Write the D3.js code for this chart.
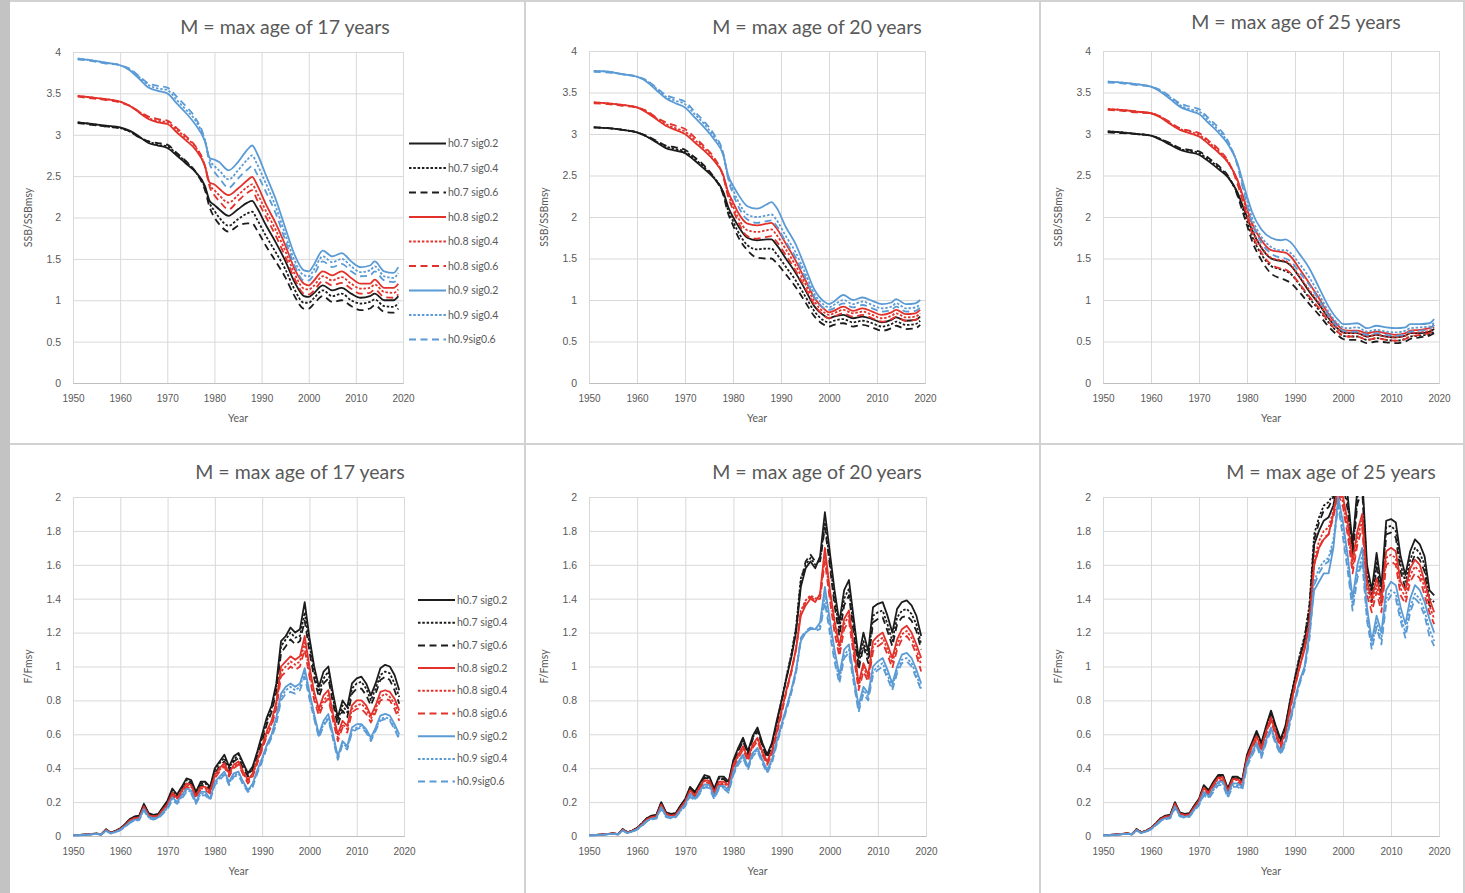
<!DOCTYPE html>
<html>
<head>
<meta charset="utf-8">
<script src="https://cdn.jsdelivr.net/npm/d3@7"></script>
<style>
  body { margin: 0; background: #fff; }
  svg { display: block; font-family: Lato, "Open Sans", sans-serif; }
</style>
</head>
<body>
<div id="chart"></div>
<script>
// series labels (legend order)
var seriesNames = ["h0.7 sig0.2", "h0.7 sig0.4", "h0.7 sig0.6",
                   "h0.8 sig0.2", "h0.8 sig0.4", "h0.8 sig0.6",
                   "h0.9 sig0.2", "h0.9 sig0.4", "h0.9sig0.6"];
var panelTitles = ["M = max age of 17 years", "M = max age of 20 years", "M = max age of 25 years"];
var xTicks = [1950, 1960, 1970, 1980, 1990, 2000, 2010, 2020];
var ssbTicks = [0, 0.5, 1, 1.5, 2, 2.5, 3, 3.5, 4];
var fTicks = [0, 0.2, 0.4, 0.6, 0.8, 1, 1.2, 1.4, 1.6, 1.8, 2];

// SSB/SSBmsy, read at these years
var ssbYears = [1951,1954,1957,1960,1962,1964,1966,1968,1970,1972,1974,1976,1978,1979,1980,1981,1983,1985,1987,1988,
                1989,1991,1993,1995,1997,1999,2000,2001,2003,2005,2007,2009,2011,2013,2014,2016,2018,2019];

var ssb17 = [
  [3.15,3.13,3.11,3.09,3.05,2.98,2.9,2.87,2.84,2.75,2.65,2.55,2.38,2.2,2.15,2.1,2.02,2.1,2.18,2.2,2.12,1.9,1.7,1.48,1.22,1.05,1.04,1.08,1.18,1.12,1.15,1.08,1.03,1.05,1.08,1.0,1.0,1.05],
  [3.15,3.13,3.1,3.08,3.04,2.97,2.92,2.88,2.86,2.77,2.67,2.55,2.36,2.17,2.08,2.0,1.9,1.98,2.05,2.07,1.98,1.77,1.58,1.38,1.13,0.97,0.97,1.02,1.12,1.05,1.08,1.0,0.96,0.98,1.01,0.93,0.92,0.97],
  [3.14,3.12,3.1,3.08,3.04,2.97,2.92,2.9,2.88,2.78,2.68,2.55,2.33,2.12,2.0,1.92,1.83,1.9,1.93,1.93,1.85,1.65,1.47,1.28,1.05,0.9,0.9,0.95,1.05,0.98,1.0,0.93,0.88,0.9,0.94,0.86,0.85,0.9],
  [3.47,3.45,3.43,3.4,3.35,3.27,3.19,3.15,3.13,3.03,2.93,2.82,2.62,2.42,2.4,2.35,2.27,2.35,2.45,2.49,2.4,2.15,1.93,1.67,1.38,1.2,1.18,1.23,1.35,1.3,1.35,1.27,1.2,1.2,1.25,1.15,1.15,1.2],
  [3.47,3.45,3.43,3.4,3.35,3.28,3.2,3.17,3.15,3.06,2.96,2.85,2.62,2.4,2.33,2.27,2.18,2.27,2.37,2.4,2.3,2.07,1.85,1.6,1.32,1.14,1.13,1.17,1.29,1.24,1.28,1.2,1.14,1.15,1.19,1.1,1.09,1.13],
  [3.46,3.44,3.42,3.39,3.35,3.28,3.22,3.19,3.17,3.08,2.98,2.86,2.62,2.37,2.27,2.2,2.1,2.2,2.3,2.33,2.22,2.0,1.78,1.53,1.26,1.08,1.07,1.11,1.23,1.18,1.21,1.14,1.08,1.09,1.13,1.04,1.03,1.07],
  [3.92,3.9,3.87,3.84,3.78,3.68,3.57,3.53,3.5,3.38,3.26,3.12,2.92,2.72,2.7,2.67,2.57,2.67,2.82,2.87,2.78,2.5,2.22,1.88,1.55,1.36,1.35,1.42,1.6,1.53,1.57,1.47,1.4,1.42,1.47,1.35,1.33,1.4],
  [3.92,3.9,3.87,3.84,3.79,3.7,3.6,3.56,3.54,3.42,3.3,3.17,2.93,2.7,2.62,2.57,2.46,2.57,2.7,2.75,2.65,2.4,2.13,1.8,1.48,1.3,1.29,1.36,1.53,1.46,1.5,1.41,1.34,1.36,1.41,1.29,1.27,1.33],
  [3.91,3.89,3.86,3.84,3.8,3.71,3.62,3.59,3.57,3.46,3.34,3.2,2.93,2.65,2.55,2.48,2.36,2.47,2.58,2.62,2.53,2.3,2.05,1.73,1.42,1.24,1.24,1.3,1.47,1.4,1.44,1.35,1.29,1.3,1.35,1.24,1.22,1.27]
];

var ssb20 = [
  [3.08,3.07,3.05,3.02,2.97,2.9,2.83,2.8,2.77,2.68,2.58,2.47,2.3,2.12,2.0,1.9,1.75,1.72,1.73,1.73,1.67,1.5,1.33,1.13,0.92,0.81,0.78,0.8,0.82,0.78,0.8,0.77,0.73,0.76,0.79,0.75,0.76,0.8],
  [3.08,3.07,3.05,3.02,2.97,2.91,2.85,2.82,2.79,2.7,2.6,2.48,2.28,2.08,1.95,1.83,1.66,1.61,1.62,1.62,1.56,1.4,1.24,1.05,0.86,0.75,0.73,0.75,0.77,0.73,0.75,0.72,0.68,0.71,0.74,0.7,0.71,0.75],
  [3.08,3.07,3.05,3.02,2.98,2.92,2.86,2.84,2.81,2.72,2.62,2.48,2.26,2.04,1.9,1.77,1.6,1.51,1.5,1.5,1.45,1.31,1.16,0.98,0.8,0.7,0.68,0.7,0.72,0.68,0.7,0.67,0.63,0.66,0.69,0.65,0.66,0.7],
  [3.38,3.37,3.35,3.32,3.26,3.18,3.1,3.05,3.0,2.9,2.8,2.68,2.5,2.3,2.18,2.06,1.92,1.9,1.92,1.93,1.87,1.68,1.48,1.25,1.02,0.89,0.85,0.87,0.92,0.87,0.9,0.86,0.82,0.85,0.88,0.83,0.84,0.88],
  [3.38,3.37,3.35,3.32,3.27,3.19,3.12,3.07,3.03,2.93,2.83,2.7,2.49,2.27,2.13,2.0,1.84,1.82,1.84,1.85,1.79,1.61,1.42,1.2,0.98,0.85,0.82,0.84,0.88,0.84,0.86,0.82,0.78,0.81,0.84,0.79,0.8,0.84],
  [3.37,3.36,3.34,3.32,3.28,3.2,3.14,3.1,3.06,2.96,2.85,2.72,2.48,2.24,2.09,1.95,1.77,1.74,1.76,1.77,1.71,1.54,1.36,1.15,0.94,0.81,0.78,0.8,0.84,0.8,0.82,0.78,0.74,0.77,0.8,0.75,0.76,0.8],
  [3.76,3.75,3.72,3.69,3.63,3.53,3.43,3.37,3.32,3.2,3.08,2.94,2.74,2.5,2.38,2.28,2.13,2.1,2.15,2.18,2.12,1.88,1.68,1.4,1.12,0.98,0.95,0.98,1.06,1.0,1.03,0.99,0.95,0.97,1.01,0.95,0.96,1.0],
  [3.76,3.75,3.72,3.69,3.64,3.55,3.45,3.4,3.36,3.24,3.12,2.97,2.75,2.48,2.33,2.2,2.03,2.0,2.02,2.03,1.97,1.77,1.58,1.33,1.07,0.94,0.91,0.94,1.0,0.95,0.98,0.94,0.9,0.92,0.96,0.9,0.91,0.95],
  [3.75,3.74,3.72,3.69,3.65,3.56,3.47,3.43,3.39,3.27,3.15,3.0,2.76,2.46,2.28,2.14,1.97,1.93,1.95,1.96,1.9,1.7,1.52,1.28,1.03,0.9,0.88,0.9,0.96,0.91,0.94,0.9,0.86,0.88,0.92,0.86,0.87,0.91]
];

var ssb25 = [
  [3.03,3.02,3.0,2.98,2.93,2.87,2.81,2.78,2.75,2.67,2.58,2.48,2.3,2.15,2.0,1.85,1.63,1.5,1.47,1.46,1.42,1.27,1.1,0.95,0.78,0.65,0.61,0.6,0.6,0.56,0.58,0.56,0.55,0.57,0.6,0.6,0.62,0.65],
  [3.03,3.02,3.0,2.98,2.94,2.88,2.82,2.8,2.77,2.69,2.6,2.49,2.28,2.12,1.95,1.78,1.55,1.41,1.37,1.35,1.32,1.18,1.02,0.88,0.73,0.61,0.57,0.56,0.56,0.52,0.54,0.52,0.51,0.53,0.56,0.57,0.59,0.62],
  [3.02,3.01,3.0,2.98,2.94,2.89,2.83,2.81,2.79,2.71,2.62,2.5,2.26,2.08,1.9,1.72,1.48,1.32,1.26,1.24,1.21,1.09,0.95,0.82,0.68,0.57,0.53,0.52,0.52,0.48,0.5,0.49,0.48,0.5,0.53,0.55,0.57,0.6],
  [3.3,3.29,3.27,3.25,3.2,3.12,3.05,3.01,2.97,2.88,2.78,2.66,2.45,2.28,2.1,1.93,1.72,1.6,1.58,1.57,1.53,1.37,1.2,1.02,0.83,0.69,0.64,0.63,0.63,0.6,0.62,0.6,0.58,0.6,0.63,0.64,0.66,0.7],
  [3.3,3.29,3.27,3.25,3.21,3.13,3.06,3.03,2.99,2.9,2.8,2.67,2.43,2.25,2.06,1.87,1.64,1.51,1.48,1.47,1.43,1.28,1.12,0.96,0.79,0.65,0.61,0.6,0.6,0.56,0.58,0.56,0.55,0.57,0.6,0.61,0.63,0.67],
  [3.29,3.28,3.26,3.25,3.21,3.14,3.07,3.04,3.01,2.92,2.82,2.68,2.4,2.21,2.01,1.81,1.57,1.43,1.38,1.37,1.33,1.19,1.04,0.9,0.74,0.61,0.57,0.56,0.56,0.52,0.54,0.52,0.51,0.53,0.56,0.58,0.6,0.64],
  [3.63,3.62,3.6,3.57,3.51,3.42,3.33,3.28,3.24,3.13,3.02,2.88,2.65,2.45,2.25,2.07,1.85,1.75,1.72,1.73,1.7,1.55,1.38,1.15,0.92,0.76,0.71,0.71,0.72,0.66,0.69,0.67,0.66,0.67,0.71,0.71,0.72,0.77],
  [3.63,3.62,3.6,3.57,3.52,3.44,3.35,3.3,3.27,3.16,3.05,2.9,2.64,2.42,2.2,2.0,1.76,1.64,1.6,1.6,1.57,1.43,1.27,1.07,0.86,0.71,0.67,0.66,0.67,0.62,0.64,0.62,0.61,0.63,0.66,0.67,0.68,0.73],
  [3.62,3.61,3.59,3.57,3.53,3.45,3.37,3.33,3.3,3.19,3.08,2.92,2.62,2.38,2.15,1.94,1.69,1.56,1.51,1.5,1.47,1.33,1.18,1.0,0.81,0.67,0.63,0.62,0.62,0.58,0.6,0.58,0.57,0.59,0.62,0.63,0.65,0.7]
];

// F/Fmsy, one value per year 1950-2019
var fYears = d3.range(1950, 2020);

var f17 = [
  [0.005,0.005,0.008,0.01,0.012,0.015,0.01,0.04,0.02,0.03, 0.045,0.07,0.1,0.115,0.12,0.19,0.135,0.125,0.13,0.17,
   0.21,0.28,0.245,0.29,0.34,0.33,0.26,0.32,0.32,0.29, 0.4,0.44,0.48,0.41,0.47,0.49,0.43,0.37,0.41,0.5,
   0.6,0.7,0.77,0.9,1.15,1.18,1.23,1.2,1.22,1.38, 1.17,1.0,0.88,0.97,1.0,0.84,0.7,0.8,0.76,0.9,
   0.93,0.94,0.9,0.83,0.9,0.99,1.01,1.0,0.95,0.86],
  [0.005,0.005,0.008,0.01,0.012,0.014,0.01,0.038,0.02,0.03, 0.044,0.068,0.098,0.112,0.117,0.185,0.13,0.12,0.127,0.165,
   0.205,0.27,0.24,0.28,0.33,0.32,0.25,0.31,0.31,0.28, 0.39,0.43,0.46,0.4,0.45,0.48,0.42,0.36,0.4,0.49,
   0.58,0.68,0.75,0.88,1.12,1.16,1.2,1.17,1.18,1.32, 1.13,0.97,0.85,0.93,0.97,0.81,0.68,0.77,0.73,0.87,
   0.9,0.91,0.87,0.8,0.87,0.95,0.97,0.96,0.9,0.82],
  [0.005,0.005,0.007,0.01,0.011,0.013,0.01,0.036,0.018,0.028, 0.042,0.065,0.095,0.108,0.113,0.18,0.125,0.115,0.122,0.16,
   0.2,0.26,0.23,0.27,0.32,0.31,0.24,0.3,0.3,0.27, 0.37,0.41,0.44,0.38,0.44,0.46,0.4,0.35,0.39,0.47,
   0.56,0.66,0.73,0.85,1.08,1.12,1.16,1.13,1.15,1.27, 1.09,0.93,0.82,0.9,0.93,0.78,0.65,0.74,0.7,0.84,
   0.87,0.87,0.83,0.77,0.84,0.92,0.94,0.92,0.86,0.78],
  [0.005,0.005,0.007,0.009,0.011,0.013,0.009,0.036,0.018,0.027, 0.041,0.064,0.092,0.106,0.11,0.175,0.124,0.115,0.12,0.156,
   0.19,0.255,0.225,0.265,0.31,0.3,0.235,0.29,0.29,0.265, 0.36,0.4,0.43,0.37,0.42,0.44,0.38,0.33,0.37,0.45,
   0.53,0.62,0.68,0.79,1.0,1.03,1.06,1.04,1.06,1.18, 1.0,0.85,0.75,0.83,0.86,0.72,0.6,0.68,0.65,0.77,
   0.8,0.8,0.77,0.71,0.77,0.85,0.86,0.85,0.81,0.74],
  [0.005,0.005,0.007,0.009,0.011,0.013,0.009,0.035,0.018,0.026, 0.04,0.062,0.09,0.103,0.107,0.17,0.12,0.112,0.117,0.152,
   0.185,0.25,0.22,0.26,0.3,0.29,0.23,0.28,0.28,0.26, 0.35,0.39,0.42,0.36,0.41,0.43,0.37,0.32,0.36,0.44,
   0.52,0.6,0.66,0.77,0.97,1.0,1.03,1.01,1.03,1.14, 0.97,0.83,0.73,0.8,0.83,0.7,0.58,0.66,0.63,0.75,
   0.77,0.78,0.75,0.69,0.75,0.82,0.84,0.82,0.78,0.71],
  [0.005,0.005,0.007,0.009,0.01,0.012,0.009,0.034,0.017,0.025, 0.039,0.06,0.087,0.1,0.104,0.165,0.116,0.108,0.113,0.148,
   0.18,0.24,0.21,0.25,0.29,0.28,0.22,0.27,0.27,0.25, 0.34,0.38,0.41,0.35,0.4,0.42,0.36,0.31,0.35,0.43,
   0.51,0.59,0.65,0.75,0.94,0.97,1.0,0.98,1.0,1.1, 0.94,0.8,0.71,0.78,0.81,0.68,0.56,0.64,0.61,0.73,
   0.75,0.75,0.72,0.67,0.73,0.8,0.81,0.8,0.75,0.68],
  [0.004,0.004,0.006,0.008,0.01,0.012,0.008,0.032,0.016,0.024, 0.037,0.057,0.082,0.095,0.1,0.16,0.113,0.105,0.11,0.14,
   0.17,0.23,0.2,0.24,0.28,0.27,0.2,0.26,0.26,0.22, 0.32,0.35,0.38,0.32,0.37,0.38,0.32,0.27,0.31,0.39,
   0.46,0.54,0.6,0.7,0.84,0.88,0.9,0.88,0.9,0.99, 0.85,0.72,0.6,0.68,0.72,0.6,0.47,0.56,0.53,0.64,
   0.66,0.66,0.63,0.58,0.64,0.71,0.72,0.71,0.66,0.6],
  [0.004,0.004,0.006,0.008,0.01,0.011,0.008,0.031,0.015,0.023, 0.035,0.055,0.08,0.092,0.097,0.155,0.11,0.1,0.106,0.135,
   0.165,0.22,0.195,0.23,0.27,0.26,0.195,0.25,0.25,0.215, 0.31,0.34,0.37,0.31,0.36,0.37,0.31,0.265,0.3,0.38,
   0.45,0.53,0.59,0.68,0.82,0.86,0.88,0.86,0.88,0.97, 0.83,0.7,0.59,0.66,0.7,0.58,0.46,0.55,0.52,0.62,
   0.64,0.65,0.62,0.57,0.63,0.69,0.7,0.69,0.64,0.58],
  [0.004,0.004,0.006,0.007,0.009,0.011,0.008,0.03,0.015,0.022, 0.034,0.053,0.077,0.089,0.094,0.15,0.106,0.097,0.103,0.13,
   0.16,0.21,0.19,0.22,0.26,0.25,0.19,0.24,0.24,0.21, 0.3,0.33,0.36,0.3,0.35,0.36,0.3,0.26,0.29,0.37,
   0.44,0.52,0.58,0.66,0.8,0.84,0.85,0.84,0.86,0.94, 0.81,0.69,0.58,0.65,0.69,0.57,0.45,0.54,0.51,0.61,
   0.63,0.64,0.61,0.56,0.62,0.68,0.69,0.68,0.63,0.57]
];

var f20 = [
  [0.005,0.005,0.008,0.01,0.013,0.016,0.011,0.04,0.022,0.032, 0.048,0.075,0.105,0.12,0.125,0.2,0.14,0.13,0.135,0.18,
   0.22,0.29,0.26,0.31,0.36,0.35,0.28,0.35,0.35,0.32, 0.45,0.52,0.58,0.5,0.59,0.64,0.55,0.48,0.55,0.68,
   0.8,0.93,1.05,1.2,1.47,1.58,1.62,1.58,1.65,1.91, 1.68,1.45,1.26,1.45,1.51,1.28,1.05,1.2,1.09,1.35,
   1.37,1.38,1.3,1.2,1.34,1.38,1.39,1.36,1.3,1.18],
  [0.005,0.005,0.008,0.01,0.013,0.016,0.011,0.04,0.022,0.032, 0.047,0.074,0.104,0.118,0.123,0.195,0.137,0.128,0.133,0.177,
   0.215,0.285,0.255,0.3,0.35,0.34,0.275,0.34,0.34,0.31, 0.44,0.51,0.57,0.49,0.58,0.63,0.54,0.47,0.54,0.67,
   0.8,0.94,1.07,1.23,1.52,1.6,1.64,1.6,1.63,1.85, 1.63,1.4,1.22,1.4,1.46,1.23,1.01,1.15,1.05,1.3,
   1.32,1.33,1.25,1.15,1.29,1.33,1.34,1.31,1.25,1.13],
  [0.005,0.005,0.008,0.01,0.012,0.015,0.011,0.039,0.021,0.031, 0.046,0.072,0.102,0.116,0.12,0.19,0.134,0.125,0.13,0.173,
   0.21,0.28,0.25,0.295,0.345,0.335,0.27,0.335,0.335,0.305, 0.43,0.5,0.56,0.48,0.57,0.62,0.53,0.46,0.53,0.66,
   0.79,0.93,1.06,1.22,1.5,1.62,1.66,1.62,1.62,1.82, 1.6,1.36,1.18,1.36,1.42,1.19,0.98,1.12,1.02,1.26,
   1.28,1.29,1.21,1.12,1.25,1.29,1.3,1.27,1.21,1.1],
  [0.005,0.005,0.007,0.009,0.012,0.015,0.01,0.037,0.02,0.03, 0.044,0.07,0.098,0.112,0.117,0.185,0.13,0.12,0.125,0.167,
   0.205,0.27,0.24,0.29,0.33,0.325,0.26,0.32,0.32,0.3, 0.42,0.48,0.53,0.46,0.54,0.58,0.5,0.44,0.5,0.62,
   0.74,0.86,0.97,1.1,1.3,1.36,1.4,1.38,1.43,1.7, 1.46,1.27,1.12,1.28,1.33,1.12,0.9,1.02,0.95,1.15,
   1.18,1.2,1.13,1.05,1.16,1.22,1.24,1.2,1.13,1.05],
  [0.005,0.005,0.007,0.009,0.012,0.015,0.01,0.036,0.02,0.029, 0.043,0.068,0.096,0.11,0.115,0.18,0.128,0.118,0.123,0.163,
   0.2,0.265,0.235,0.285,0.325,0.32,0.255,0.31,0.31,0.29, 0.41,0.47,0.52,0.45,0.53,0.57,0.49,0.43,0.49,0.61,
   0.73,0.86,0.97,1.11,1.33,1.39,1.42,1.4,1.42,1.66, 1.43,1.24,1.09,1.25,1.3,1.09,0.88,1.0,0.93,1.12,
   1.15,1.17,1.1,1.02,1.13,1.19,1.21,1.17,1.1,1.01],
  [0.005,0.005,0.007,0.009,0.011,0.014,0.01,0.035,0.019,0.028, 0.042,0.066,0.094,0.107,0.112,0.176,0.125,0.115,0.12,0.16,
   0.195,0.26,0.23,0.28,0.32,0.31,0.25,0.305,0.305,0.285, 0.4,0.46,0.51,0.44,0.52,0.56,0.48,0.42,0.48,0.6,
   0.72,0.85,0.96,1.1,1.32,1.38,1.41,1.39,1.4,1.62, 1.4,1.2,1.06,1.22,1.27,1.06,0.86,0.97,0.91,1.09,
   1.12,1.14,1.07,0.99,1.1,1.16,1.18,1.14,1.07,0.97],
  [0.004,0.004,0.006,0.008,0.011,0.013,0.009,0.033,0.018,0.027, 0.04,0.063,0.09,0.103,0.108,0.17,0.12,0.11,0.115,0.153,
   0.188,0.25,0.22,0.265,0.305,0.3,0.235,0.295,0.295,0.27, 0.38,0.44,0.48,0.41,0.49,0.52,0.45,0.39,0.45,0.56,
   0.66,0.76,0.86,0.98,1.15,1.2,1.22,1.22,1.26,1.47, 1.28,1.1,0.95,1.1,1.13,0.94,0.77,0.88,0.84,1.0,
   1.03,1.05,0.98,0.9,1.0,1.07,1.08,1.05,0.98,0.9],
  [0.004,0.004,0.006,0.008,0.01,0.013,0.009,0.032,0.017,0.026, 0.039,0.061,0.088,0.1,0.105,0.165,0.116,0.107,0.112,0.148,
   0.182,0.24,0.215,0.255,0.295,0.29,0.225,0.285,0.285,0.262, 0.37,0.43,0.47,0.4,0.48,0.51,0.44,0.38,0.44,0.55,
   0.65,0.75,0.85,0.97,1.16,1.2,1.23,1.22,1.24,1.42, 1.24,1.06,0.92,1.07,1.1,0.92,0.75,0.86,0.82,0.97,
   1.0,1.02,0.95,0.88,0.98,1.04,1.05,1.02,0.95,0.87],
  [0.004,0.004,0.006,0.007,0.01,0.012,0.009,0.031,0.017,0.025, 0.038,0.059,0.085,0.097,0.102,0.16,0.112,0.104,0.109,0.144,
   0.176,0.232,0.21,0.248,0.287,0.282,0.218,0.278,0.278,0.255, 0.36,0.42,0.46,0.39,0.47,0.5,0.43,0.37,0.43,0.54,
   0.64,0.74,0.84,0.96,1.17,1.21,1.23,1.21,1.22,1.38, 1.2,1.03,0.9,1.05,1.08,0.9,0.73,0.84,0.8,0.95,
   0.98,1.0,0.93,0.86,0.96,1.02,1.03,1.0,0.93,0.86]
];

var f25 = [
  [0.005,0.005,0.008,0.01,0.013,0.016,0.011,0.04,0.022,0.032, 0.048,0.075,0.105,0.12,0.125,0.2,0.14,0.13,0.135,0.18,
   0.22,0.3,0.27,0.32,0.36,0.36,0.28,0.35,0.35,0.33, 0.48,0.55,0.62,0.55,0.65,0.74,0.65,0.57,0.65,0.8,
   0.93,1.05,1.15,1.3,1.72,1.8,1.86,1.88,1.95,2.1, 2.15,2.0,1.72,2.05,2.12,1.6,1.45,1.67,1.47,1.86,
   1.87,1.85,1.65,1.54,1.68,1.75,1.72,1.65,1.45,1.42],
  [0.005,0.005,0.008,0.01,0.013,0.016,0.011,0.04,0.022,0.032, 0.047,0.074,0.104,0.118,0.123,0.195,0.137,0.128,0.133,0.177,
   0.215,0.295,0.265,0.315,0.355,0.355,0.275,0.345,0.345,0.325, 0.47,0.54,0.61,0.54,0.64,0.73,0.64,0.56,0.64,0.8,
   0.94,1.07,1.18,1.36,1.78,1.88,1.95,1.97,2.02,2.12, 2.12,1.96,1.68,2.0,2.08,1.56,1.42,1.62,1.42,1.82,
   1.83,1.8,1.6,1.5,1.63,1.7,1.67,1.6,1.4,1.38],
  [0.005,0.005,0.008,0.01,0.012,0.015,0.011,0.039,0.021,0.031, 0.046,0.072,0.102,0.116,0.12,0.19,0.134,0.125,0.13,0.173,
   0.21,0.29,0.26,0.31,0.35,0.35,0.27,0.34,0.34,0.32, 0.46,0.53,0.6,0.53,0.63,0.72,0.63,0.55,0.63,0.79,
   0.93,1.06,1.17,1.35,1.75,1.85,1.92,1.94,2.0,2.1, 2.08,1.92,1.65,1.96,2.04,1.52,1.38,1.58,1.38,1.78,
   1.79,1.76,1.56,1.46,1.59,1.66,1.63,1.56,1.36,1.34],
  [0.005,0.005,0.007,0.009,0.012,0.015,0.01,0.037,0.02,0.03, 0.045,0.071,0.1,0.114,0.118,0.19,0.133,0.123,0.128,0.17,
   0.21,0.285,0.255,0.305,0.345,0.345,0.265,0.335,0.335,0.315, 0.46,0.53,0.59,0.52,0.62,0.7,0.61,0.54,0.61,0.76,
   0.89,1.0,1.1,1.24,1.6,1.7,1.75,1.78,1.9,2.05, 2.0,1.85,1.62,1.8,1.9,1.5,1.4,1.52,1.4,1.68,
   1.7,1.68,1.5,1.45,1.58,1.63,1.6,1.5,1.4,1.32],
  [0.005,0.005,0.007,0.009,0.011,0.014,0.01,0.036,0.02,0.029, 0.044,0.07,0.098,0.112,0.116,0.185,0.13,0.12,0.125,0.166,
   0.205,0.28,0.25,0.3,0.34,0.34,0.26,0.33,0.33,0.31, 0.45,0.52,0.58,0.51,0.61,0.69,0.6,0.53,0.6,0.75,
   0.89,1.01,1.12,1.27,1.63,1.74,1.8,1.82,1.92,2.05, 1.97,1.81,1.58,1.76,1.86,1.46,1.36,1.48,1.36,1.64,
   1.66,1.64,1.46,1.41,1.54,1.59,1.56,1.46,1.36,1.28],
  [0.005,0.005,0.007,0.009,0.011,0.014,0.01,0.035,0.019,0.028, 0.043,0.068,0.095,0.109,0.113,0.18,0.127,0.117,0.122,0.162,
   0.2,0.27,0.245,0.29,0.33,0.33,0.255,0.32,0.32,0.3, 0.44,0.51,0.57,0.5,0.6,0.68,0.59,0.52,0.59,0.74,
   0.88,1.0,1.11,1.26,1.6,1.7,1.76,1.78,1.88,2.02, 1.94,1.77,1.55,1.72,1.82,1.42,1.32,1.44,1.32,1.6,
   1.62,1.6,1.42,1.37,1.5,1.55,1.52,1.42,1.32,1.25],
  [0.004,0.004,0.006,0.008,0.011,0.013,0.009,0.034,0.018,0.027, 0.041,0.065,0.092,0.105,0.11,0.175,0.122,0.113,0.118,0.156,
   0.19,0.26,0.235,0.28,0.32,0.32,0.245,0.31,0.31,0.29, 0.43,0.49,0.55,0.48,0.57,0.64,0.56,0.5,0.56,0.69,
   0.81,0.92,1.0,1.2,1.45,1.5,1.55,1.55,1.7,2.0, 1.85,1.65,1.4,1.6,1.7,1.35,1.15,1.3,1.2,1.45,
   1.5,1.48,1.35,1.25,1.4,1.48,1.45,1.38,1.28,1.2],
  [0.004,0.004,0.006,0.008,0.01,0.013,0.009,0.033,0.017,0.026, 0.04,0.063,0.09,0.102,0.107,0.17,0.118,0.11,0.115,0.152,
   0.185,0.25,0.23,0.27,0.31,0.31,0.235,0.3,0.3,0.28, 0.42,0.48,0.54,0.47,0.56,0.63,0.55,0.49,0.55,0.68,
   0.8,0.91,0.99,1.18,1.5,1.58,1.62,1.64,1.75,1.97, 1.8,1.6,1.36,1.55,1.65,1.3,1.12,1.26,1.16,1.4,
   1.45,1.43,1.3,1.2,1.35,1.43,1.4,1.33,1.22,1.15],
  [0.004,0.004,0.006,0.007,0.01,0.012,0.009,0.032,0.017,0.025, 0.039,0.061,0.087,0.099,0.104,0.165,0.115,0.107,0.112,0.148,
   0.18,0.24,0.22,0.26,0.3,0.3,0.225,0.29,0.29,0.27, 0.41,0.47,0.53,0.46,0.55,0.62,0.54,0.48,0.54,0.67,
   0.79,0.9,0.98,1.16,1.48,1.55,1.6,1.62,1.72,1.95, 1.76,1.56,1.33,1.52,1.62,1.27,1.1,1.23,1.13,1.37,
   1.42,1.4,1.27,1.17,1.32,1.4,1.37,1.3,1.18,1.12]
];

// line styles per series
var seriesColors = ["#1c1c1c", "#1c1c1c", "#1c1c1c", "#e3322b", "#e3322b", "#e3322b", "#5b9bd5", "#5b9bd5", "#5b9bd5"];
var seriesDash = [null, "2.5,1.8", "7,4.5", null, "2.5,1.8", "7,4.5", null, "2.5,1.8", "7,4.5"];

// panel layout
var panels = [
  { title: panelTitles[0], tx: 285, ty: 34, years: ssbYears, data: ssb17, ymax: 4, ticks: ssbTicks, ylab: "SSB/SSBmsy", left: 73, right: 403, top: 52, bottom: 383, smooth: true, legend: { x: 409, y: 143.5, step: 24.5 } },
  { title: panelTitles[1], tx: 817, ty: 34, years: ssbYears, data: ssb20, ymax: 4, ticks: ssbTicks, ylab: "SSB/SSBmsy", left: 589, right: 925, top: 51, bottom: 383, smooth: true },
  { title: panelTitles[2], tx: 1296, ty: 29, years: ssbYears, data: ssb25, ymax: 4, ticks: ssbTicks, ylab: "SSB/SSBmsy", left: 1103, right: 1439, top: 51, bottom: 383, smooth: true },
  { title: panelTitles[0], tx: 300, ty: 479, years: fYears, data: f17, ymax: 2, ticks: fTicks, ylab: "F/Fmsy", left: 73, right: 404, top: 497, bottom: 836, smooth: false, legend: { x: 418, y: 600, step: 22.7 } },
  { title: panelTitles[1], tx: 817, ty: 479, years: fYears, data: f20, ymax: 2, ticks: fTicks, ylab: "F/Fmsy", left: 589, right: 926, top: 497, bottom: 836, smooth: false },
  { title: panelTitles[2], tx: 1331, ty: 479, years: fYears, data: f25, ymax: 2, ticks: fTicks, ylab: "F/Fmsy", left: 1103, right: 1439, top: 497, bottom: 836, smooth: false }
];

var textColor = "#595959";
var gridColor = "#d9d9d9";

var svg = d3.select("#chart").append("svg")
  .attr("width", 1465)
  .attr("height", 893);

svg.append("rect").attr("width", 1465).attr("height", 893).attr("fill", "#fff");
// grey strip on the left and the cell borders
svg.append("rect").attr("x", 0).attr("y", 0).attr("width", 10).attr("height", 893).attr("fill", "#c3c3c3");
var borders = [[525, 0, 525, 893], [1040, 0, 1040, 893], [10, 444, 1465, 444], [1464, 0, 1464, 893], [10, 1, 1465, 1]];
svg.selectAll("line.border").data(borders).enter().append("line")
  .attr("class", "border")
  .attr("x1", function(d) { return d[0]; }).attr("y1", function(d) { return d[1]; })
  .attr("x2", function(d) { return d[2]; }).attr("y2", function(d) { return d[3]; })
  .attr("stroke", "#d2d2d2").attr("stroke-width", 2);

var fmt = d3.format("~g");

panels.forEach(function(p, pi) {
  var x = d3.scaleLinear().domain([1950, 2020]).range([p.left, p.right]);
  var y = d3.scaleLinear().domain([0, p.ymax]).range([p.bottom, p.top]);
  var g = svg.append("g");

  // horizontal grid + y labels
  var yAxis = d3.axisLeft(y).tickValues(p.ticks).tickFormat(fmt)
    .tickSize(-(p.right - p.left)).tickPadding(12);
  var gy = g.append("g").attr("transform", "translate(" + p.left + ",0)").call(yAxis);
  gy.select(".domain").remove();
  gy.selectAll(".tick line").attr("stroke", gridColor).attr("stroke-width", 1);
  gy.selectAll(".tick text").attr("fill", textColor).attr("font-size", "10.5px");

  // vertical grid + x labels
  var xAxis = d3.axisBottom(x).tickValues(xTicks).tickFormat(d3.format("d"))
    .tickSize(-(p.bottom - p.top)).tickPadding(12);
  var gx = g.append("g").attr("transform", "translate(0," + p.bottom + ")").call(xAxis);
  gx.select(".domain").attr("stroke", "#bfbfbf");
  gx.selectAll(".tick line").attr("stroke", gridColor).attr("stroke-width", 1);
  gx.selectAll(".tick text").attr("fill", textColor).attr("font-size", "10px");

  // titles
  g.append("text").attr("x", p.tx).attr("y", p.ty)
    .attr("text-anchor", "middle").attr("fill", textColor)
    .attr("font-size", "19.5px").text(p.title);
  g.append("text").attr("x", (p.left + p.right) / 2).attr("y", p.bottom + 39)
    .attr("text-anchor", "middle").attr("fill", textColor)
    .attr("font-size", "10.5px").text("Year");
  g.append("text")
    .attr("transform", "translate(" + (p.left - 41) + "," + ((p.top + p.bottom) / 2) + ") rotate(-90)")
    .attr("text-anchor", "middle").attr("fill", textColor)
    .attr("font-size", "10.5px").text(p.ylab);

  // clip for values above the axis max
  svg.append("clipPath").attr("id", "clip" + pi)
    .append("rect").attr("x", p.left).attr("y", p.top - 1)
    .attr("width", p.right - p.left).attr("height", p.bottom - p.top + 2);

  var line = d3.line()
    .x(function(d, i) { return x(p.years[i]); })
    .y(function(d) { return y(d); })
    .curve(p.smooth ? d3.curveMonotoneX : d3.curveLinear);

  g.append("g").attr("clip-path", "url(#clip" + pi + ")")
    .selectAll("path").data(p.data).enter().append("path")
    .attr("d", line)
    .attr("fill", "none")
    .attr("stroke", function(d, i) { return seriesColors[i]; })
    .attr("stroke-width", 1.8)
    .attr("stroke-dasharray", function(d, i) { return seriesDash[i]; })
    .attr("stroke-linejoin", "round");

  // legend
  if (p.legend) {
    var lg = g.append("g").selectAll("g").data(seriesNames).enter().append("g")
      .attr("transform", function(d, i) { return "translate(" + p.legend.x + "," + (p.legend.y + i * p.legend.step) + ")"; });
    lg.append("line").attr("x1", 0).attr("x2", 37).attr("y1", 0).attr("y2", 0)
      .attr("stroke", function(d, i) { return seriesColors[i]; })
      .attr("stroke-width", 2)
      .attr("stroke-dasharray", function(d, i) { return seriesDash[i]; });
    lg.append("text").attr("x", 39).attr("y", 3.5)
      .attr("fill", textColor).attr("font-size", "10.5px")
      .text(function(d) { return d; });
  }
});
</script>
</body>
</html>
